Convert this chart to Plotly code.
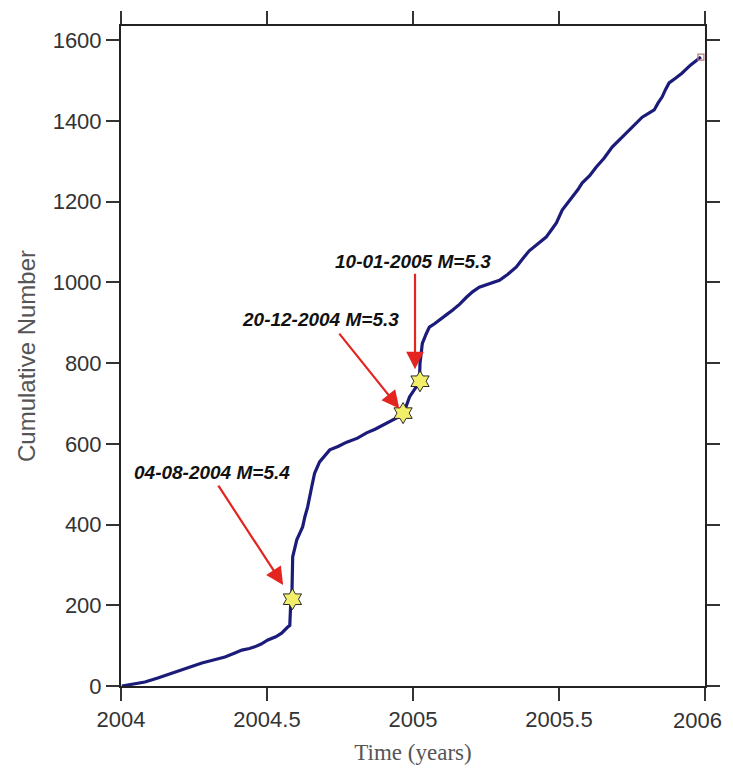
import plotly.graph_objects as go

# ---- data ----
years = [2004.003, 2004.040, 2004.082, 2004.126, 2004.170, 2004.209, 2004.245,
         2004.277, 2004.320, 2004.356, 2004.390, 2004.414, 2004.440, 2004.458,
         2004.480, 2004.503, 2004.530, 2004.550, 2004.571, 2004.578, 2004.581,
         2004.585, 2004.588, 2004.595, 2004.602, 2004.612, 2004.622, 2004.630,
         2004.639, 2004.653, 2004.663, 2004.680, 2004.700, 2004.715, 2004.745,
         2004.773, 2004.810, 2004.841, 2004.870, 2004.896, 2004.920, 2004.944,
         2004.964, 2004.975, 2004.988, 2005.005, 2005.022, 2005.024, 2005.032,
         2005.045, 2005.056, 2005.075, 2005.091, 2005.115, 2005.135, 2005.160,
         2005.183, 2005.205, 2005.227, 2005.260, 2005.296, 2005.325, 2005.354,
         2005.375, 2005.398, 2005.430, 2005.456, 2005.475, 2005.491, 2005.511,
         2005.530, 2005.545, 2005.565, 2005.579, 2005.605, 2005.627, 2005.655,
         2005.682, 2005.705, 2005.730, 2005.760, 2005.785, 2005.805, 2005.826,
         2005.840, 2005.853, 2005.865, 2005.877, 2005.900, 2005.921, 2005.950,
         2005.979, 2005.986]
cumulative = [0, 4, 10, 20, 31, 40, 50,
              57, 65, 72, 82, 89, 93, 97,
              104, 114, 122, 131, 146, 150, 200,
              215, 320, 345, 362, 378, 394, 420,
              443, 493, 527, 555, 573, 585, 594,
              604, 614, 627, 636, 646, 654, 664,
              676, 690, 716, 735, 753, 800, 849,
              872, 889, 898, 906, 920, 931, 946,
              963, 977, 988, 996, 1005, 1020, 1038,
              1058, 1078, 1097, 1112, 1131, 1147, 1179,
              1196, 1211, 1230, 1246, 1264, 1285, 1308,
              1335, 1351, 1370, 1390, 1409, 1418, 1427,
              1445, 1459, 1478, 1494, 1506, 1518, 1538,
              1555, 1558]

event_years = [2004.587, 2004.966, 2005.024]
event_counts = [215, 676, 755]
event_labels = ["04-08-2004 M=5.4", "20-12-2004 M=5.3", "10-01-2005 M=5.3"]

x_ticks = [2004, 2004.5, 2005, 2005.5, 2006]
y_ticks = [0, 200, 400, 600, 800, 1000, 1200, 1400, 1600]

TICK_FONT = dict(family="Liberation Sans, Arial", size=22, color="#333333")

fig = go.Figure()

fig.add_trace(go.Scatter(
    x=years, y=cumulative, mode="lines",
    line=dict(color="#1b1b7a", width=3.2),
    showlegend=False, hoverinfo="skip"))

fig.add_trace(go.Scatter(
    x=[years[-1]], y=[cumulative[-1]], mode="markers",
    marker=dict(symbol="square-open", size=6, color="#b87878", line=dict(width=1.2)),
    showlegend=False, hoverinfo="skip"))

fig.add_trace(go.Scatter(
    x=event_years, y=event_counts, mode="markers",
    marker=dict(symbol="hexagram", size=16, color="#f2ee6a",
                line=dict(color="#2a2a2a", width=1)),
    showlegend=False, hoverinfo="skip"))

# label offsets (pixels) and arrow geometry relative to each star
text_shift = [(-80, 127), (-83, 94), (-7, 120)]
arrow_geom = [  # (xshift, ax, ay, standoff)
    (0, -75, -115, 17),
    (0, -65, -81, 6),
    (-5, 0, -109, 12),
]
for xv, yv, lab, (tx, ty), (xs, ax, ay, so) in zip(event_years, event_counts, event_labels,
                                                    text_shift, arrow_geom):
    fig.add_annotation(x=xv, y=yv, xref="x", yref="y", text="",
                       showarrow=True, ax=ax, ay=ay, xshift=xs,
                       arrowcolor="#e3241f", arrowwidth=2.2, arrowhead=2,
                       arrowsize=1.6, standoff=so)
    fig.add_annotation(x=xv, y=yv, xref="x", yref="y",
                       text="<b><i>" + lab + "</i></b>", showarrow=False,
                       xshift=tx, yshift=ty,
                       font=dict(family="Liberation Sans, Arial", size=19, color="#111111"))

# the last x tick label sits at the window edge; draw it right-aligned so it stays visible
x_ticktext = [str(v) for v in x_ticks[:-1]] + [""]
fig.add_annotation(x=x_ticks[-1], y=0, xref="x", yref="paper", text=str(x_ticks[-1]),
                   showarrow=False, xanchor="right", yanchor="middle",
                   xshift=19, yshift=-34, font=TICK_FONT)

axis_common = dict(
    showline=True, linecolor="#222222", linewidth=2,
    ticks="outside", ticklen=13, tickwidth=1.5, tickcolor="#333333",
    mirror="ticks", showgrid=False, zeroline=False, automargin=False,
    ticklabeloverflow="allow",
    tickfont=TICK_FONT,
)

fig.update_xaxes(range=[2004, 2006], tickvals=x_ticks, ticktext=x_ticktext,
                 title=dict(text="Time (years)",
                            font=dict(family="Liberation Serif, Times New Roman", size=23,
                                      color="#555555"),
                            standoff=13),
                 **axis_common)
fig.update_yaxes(range=[0, 1635], tickvals=y_ticks,
                 title=dict(text="Cumulative Number",
                            font=dict(family="Liberation Sans, Arial", size=24,
                                      color="#555555"),
                            standoff=10),
                 **axis_common)

# the page body adds an 8 px offset; the figure is sized so the page does not scroll
fig.update_layout(
    width=725, height=757,
    margin=dict(l=113, r=28, t=18, b=79, autoexpand=False),
    paper_bgcolor="white", plot_bgcolor="white",
)

fig.write_html("out.html")
